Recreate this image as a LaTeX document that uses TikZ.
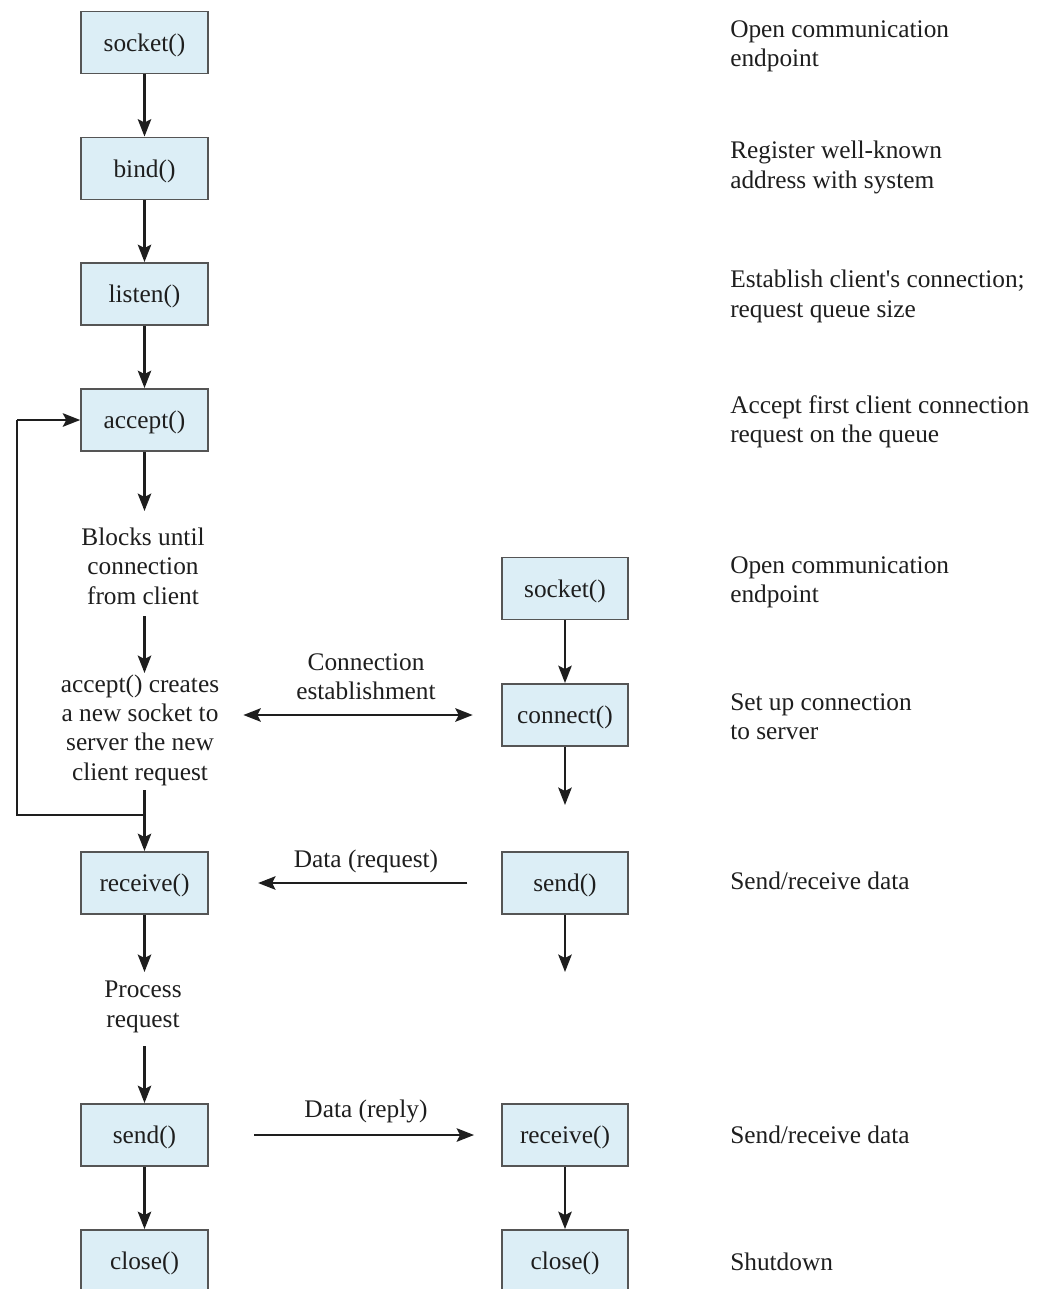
\documentclass[tikz,border=0pt]{standalone}
\usepackage{fontspec}
\setmainfont{Liberation Serif}
\usetikzlibrary{arrows.meta}
\definecolor{boxfill}{HTML}{DCEEF6}
\definecolor{boxline}{HTML}{555555}
\definecolor{ink}{HTML}{1E1E1E}
\begin{document}
\begin{tikzpicture}[x=0.75pt,y=-0.75pt,
  every node/.style={font=\fontsize{19}{22}\selectfont, text=ink},
  fbox/.style={draw=boxline, line width=1.4pt, fill=boxfill, minimum width=95pt, minimum height=46.5pt, inner sep=0pt, text height=15.5pt, text depth=2.5pt},
  note/.style={align=center, inner sep=0pt},
  desc/.style={align=left, anchor=north west, inner sep=0pt},
  tip/.tip={Stealth[length=13pt,width=10pt,inset=2.5pt]},
  arr/.style={draw=ink, line width=2pt, -tip},
  darr/.style={draw=ink, line width=2pt, tip-tip},
  plain/.style={draw=ink, line width=2pt}]
\useasboundingbox (0,0) rectangle (1038,1289);
\clip (0,0) rectangle (1038,1289);

% server column
\node[fbox] (s1) at (144.5,42.5) {socket()};
\node[fbox] (bind) at (144.5,168.5) {bind()};
\node[fbox] (listen) at (144.5,294) {listen()};
\node[fbox] (accept) at (144.5,420) {accept()};
\node[note] (blocks) at (143,566) {Blocks until\\connection\\from client};
\node[note] (creates) at (140,730) {accept() creates\\a new socket to\\server the new\\client request};
\node[fbox] (recv) at (144.5,883) {receive()};
\node[note] (process) at (143,1007) {Process\\request};
\node[fbox] (send) at (144.5,1135) {send()};
\node[fbox] (close) at (144.5,1261) {close()};

% client column
\node[fbox] (cs) at (565,588.5) {socket()};
\node[fbox] (conn) at (565,715) {connect()};
\node[fbox] (csend) at (565,883) {send()};
\node[fbox] (crecv) at (565,1135) {receive()};
\node[fbox] (cclose) at (565,1261) {close()};

% connector end points
\coordinate (acceptend) at (144.5,511);
\coordinate (blocksout) at (144.5,616);
\coordinate (createsin) at (144.5,673);
\coordinate (createsout) at (144.5,790);
\coordinate (loop) at (144.5,815);
\coordinate (recvend) at (144.5,972);
\coordinate (processout) at (144.5,1046);
\coordinate (connend) at (565,805);
\coordinate (csendend) at (565,972);

% descriptions
\node[desc] (d1) at (730,20) {Open communication\\endpoint};
\node[desc] (d2) at (730,141) {Register well-known\\address with system};
\node[desc] (d3) at (730,270) {Establish client\textquotesingle s connection;\\request queue size};
\node[desc] (d4) at (730,395) {Accept first client connection\\request on the queue};
\node[desc] (d5) at (730,556) {Open communication\\endpoint};
\node[desc] (d6) at (730,693) {Set up connection\\to server};
\node[desc] (d7) at (730,872) {Send/receive data};
\node[desc] (d8) at (730,1126) {Send/receive data};
\node[desc] (d9) at (730,1253) {Shutdown};

% server arrows
\draw[arr] (s1) -- (bind);
\draw[arr] (bind) -- (listen);
\draw[arr] (listen) -- (accept);
\draw[arr] (accept) -- (acceptend);
\draw[arr] (blocksout) -- (createsin);
\draw[arr] (createsout) -- (recv);
\draw[plain] (loop) -- (17,815) -- (17,420);
\draw[arr] (17,420) -- (accept.west);
\draw[arr] (recv) -- (recvend);
\draw[arr] (processout) -- (send);
\draw[arr] (send) -- (close);

% client arrows
\draw[arr] (cs) -- (conn);
\draw[arr] (conn) -- (connend);
\draw[arr] (csend) -- (csendend);
\draw[arr] (crecv) -- (cclose);

% between
\draw[darr, shorten <=18pt, shorten >=21pt] (creates.east |- conn) -- (conn.west);
\node[note] (lconn) at (366,677) {Connection\\establishment};
\draw[arr, shorten <=25pt, shorten >=37pt] (csend.west) -- (recv.east);
\node[note] (lreq) at (366,861) {Data (request)};
\draw[arr, shorten <=34pt, shorten >=20pt] (send.east) -- (crecv.west);
\node[note] (lrep) at (366,1111) {Data (reply)};
\end{tikzpicture}
\end{document}
